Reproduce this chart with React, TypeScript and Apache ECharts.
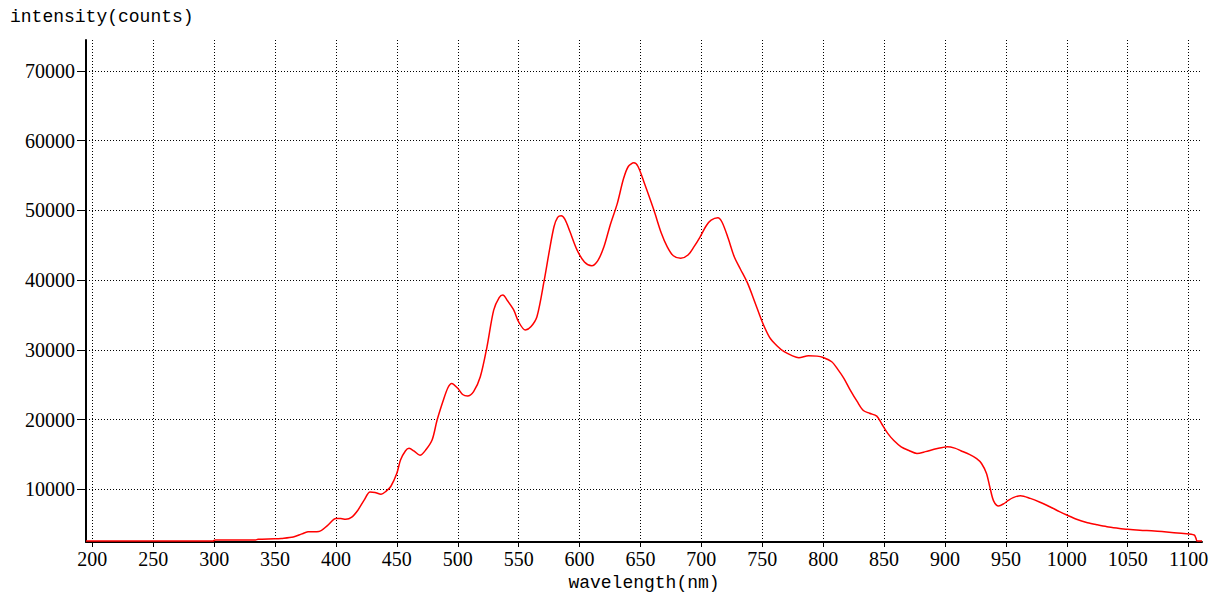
import React, { useEffect, useRef } from "react";
import * as echarts from "echarts";

const wavelengths: number[] = [
  194.8, 250, 299, 301, 334, 336, 350, 355, 365, 372, 377, 386, 393, 400, 404, 408, 413, 418, 423, 428,
  432, 437, 441, 445, 450, 453, 457, 460, 464, 469, 474, 479, 483, 488, 492, 495, 500, 504, 508, 513,
  518.5, 524, 529.5, 534, 537, 541, 546, 550, 555.5, 560, 565, 571, 575, 579, 582, 585, 588, 592, 598, 604,
  610, 615, 620, 625, 631, 636, 640, 644.6, 648, 653, 661, 667, 672, 677, 683, 689, 694, 699, 704, 708,
  713.5, 717, 722, 727, 732, 738, 744, 750, 756, 762, 768, 774, 780, 788, 795, 800, 807, 812, 817, 822,
  828, 833, 838, 844, 848, 853, 858, 864, 870, 877, 884, 891, 898, 902, 908, 913, 920, 926, 930, 934,
  937, 940, 944, 948, 952, 956, 962, 970, 978, 986, 994, 1000, 1008, 1017, 1025, 1033, 1042, 1050, 1060, 1072,
  1080, 1088, 1096, 1104.6, 1106, 1107, 1111,
];

const intensities: number[] = [
  2580, 2580, 2590, 2720, 2740, 2830, 2900, 2950, 3150, 3600, 3900, 3950, 4800, 5800, 5800, 5700, 6000, 7000, 8400, 9600,
  9550, 9300, 9700, 10400, 12300, 14200, 15500, 15870, 15500, 14870, 15700, 17100, 19900, 22700, 24600, 25190, 24500, 23600, 23370, 24000,
  26140, 30440, 35700, 37500, 37860, 37000, 35700, 34000, 32840, 33300, 34740, 40000, 44000, 47650, 49000, 49230, 48700, 47000, 44310, 42600,
  42060, 42800, 44780, 47800, 51010, 54500, 56300, 56830, 56300, 54000, 50050, 46800, 44780, 43500, 43120, 43600, 44800, 46220, 47800, 48600,
  48940, 48300, 46000, 43350, 41600, 39530, 36800, 34000, 31800, 30600, 29730, 29200, 28870, 29150, 29100, 28900, 28290, 27200, 25910, 24300,
  22560, 21300, 20900, 20500, 19400, 18020, 17000, 16100, 15600, 15150, 15400, 15730, 16000, 16100, 15900, 15530, 15000, 14400, 13700, 12290,
  10200, 8300, 7600, 7900, 8400, 8800, 9080, 8700, 8150, 7500, 6800, 6310, 5700, 5210, 4900, 4630, 4420, 4260, 4130, 4020,
  3900, 3770, 3650, 3440, 3000, 2580, 2580,
];

const xTicks: number[] = [200, 250, 300, 350, 400, 450, 500, 550, 600, 650, 700, 750, 800, 850, 900, 950, 1000, 1050, 1100];
const yTicks: number[] = [10000, 20000, 30000, 40000, 50000, 60000, 70000];

const xTitle = "wavelength(nm)";
const yTitle = "intensity(counts)";

export default function App() {
  const ref = useRef<HTMLDivElement>(null);

  useEffect(() => {
    if (!ref.current) return;
    const chart = echarts.init(ref.current, undefined, { renderer: "svg" });
    const serif = "'Liberation Serif', 'DejaVu Serif', serif";
    const mono = "'Liberation Mono', 'DejaVu Sans Mono', monospace";
    const gridLine = { show: true, lineStyle: { color: "#000", width: 1, type: [1, 2] as any } };
    const plain = (v: number) => String(v);
    chart.setOption({
      animation: false,
      backgroundColor: "#fff",
      grid: { left: 86, top: 40, right: 16, bottom: 57, containLabel: false },
      graphic: [
        {
          type: "text",
          left: 10,
          top: 8,
          style: { text: yTitle, font: `18px ${mono}`, fill: "#000" },
        },
      ],
      xAxis: {
        type: "value",
        min: 194.8,
        max: 1111,
        name: xTitle,
        nameLocation: "middle",
        nameGap: 32,
        nameTextStyle: { fontFamily: mono, fontSize: 18, color: "#000" },
        axisLine: { show: true, onZero: false, lineStyle: { color: "#000", width: 2 } },
        axisTick: { show: true, customValues: xTicks, length: 5, lineStyle: { color: "#000" } },
        axisLabel: { customValues: xTicks, formatter: plain, fontFamily: serif, fontSize: 20, color: "#000", margin: 7 },
        splitLine: gridLine,
      },
      yAxis: {
        type: "value",
        min: 2440,
        max: 74440,
        axisLine: { show: true, onZero: false, lineStyle: { color: "#000", width: 2 } },
        axisTick: { show: true, customValues: yTicks, length: 9, lineStyle: { color: "#000" } },
        axisLabel: { customValues: yTicks, formatter: plain, fontFamily: serif, fontSize: 20, color: "#000", margin: 11 },
        splitLine: gridLine,
      },
      series: [
        {
          type: "line",
          data: wavelengths.map((w, i) => [w, intensities[i]]),
          showSymbol: false,
          smooth: 0.3,
          lineStyle: { color: "#ff0000", width: 1.5 },
          itemStyle: { color: "#ff0000" },
        },
      ],
    });
    return () => chart.dispose();
  }, []);

  return <div ref={ref} style={{ width: 1218, height: 599, position: "absolute", left: 0, top: 0 }} />;
}
